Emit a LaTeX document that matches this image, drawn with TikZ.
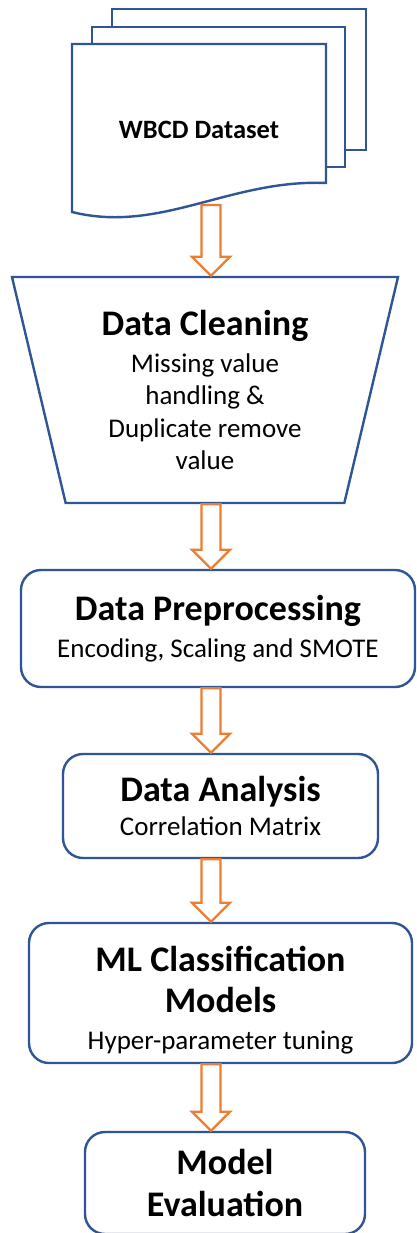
\documentclass[tikz,border=0pt]{standalone}
\usepackage{fontspec}
\setmainfont{Carlito}
\usetikzlibrary{calc,shapes.geometric}
\definecolor{boxblue}{HTML}{2F5597}
\definecolor{arroworange}{HTML}{ED7D31}
\newcommand\ttlfont{\fontsize{36}{42}\selectfont\bfseries}
\newcommand\subfont{\fontsize{27}{32.5}\selectfont}
\tikzset{
  stage/.style={draw=boxblue,line width=2.4pt,rounded corners=20pt,fill=white,
    align=center,font=\subfont,inner sep=0pt},
  page/.style={draw=boxblue,line width=2.4pt,fill=white},
  blockarrow/.style={draw=arroworange,line width=2.3pt,fill=white,
    to path={let \p1=(\tikztostart),\p2=(\tikztotarget) in
      (\x1-9.5pt,\y1) -- (\x1-9.5pt,\y2+19pt) -- (\x1-19pt,\y2+19pt) -- (\x2,\y2)
      -- (\x1+19pt,\y2+19pt) -- (\x1+9.5pt,\y2+19pt) -- (\x1+9.5pt,\y1) -- cycle}}
}
\def\stagenode{\node[stage]}

\begin{document}
\begin{tikzpicture}[x=1pt,y=-1pt]
\useasboundingbox (0,0) rectangle (416,1233);
\clip (0,0) rectangle (416,1233);
\draw[page] (112,9) rectangle (366,150);
\draw[page] (92,27) rectangle (345,167);
\draw[page] (72,44) -- (326,44) -- (326,183)
  .. controls (230,179) and (160,234) .. (72,212) -- cycle;
\coordinate (axis) at (211,205);
\node[font=\fontsize{26.5}{30}\selectfont\bfseries] (data) at (199,130) {WBCD Dataset};
\node[trapezium,shape border rotate=180,trapezium stretches body,draw=boxblue,
  line width=2.4pt,fill=white,trapezium angle=71.4,minimum width=386pt,
  minimum height=226pt,align=center,font=\subfont,inner sep=0pt] (clean) at (205,390)
  {{\ttlfont Data Cleaning}\\[4pt] Missing value\\ handling \&\\ Duplicate remove\\ value};
\stagenode[minimum width=394pt,minimum height=117pt] (prep) at (218,628.5)
  {{\ttlfont Data Preprocessing}\\[4pt] Encoding, Scaling and SMOTE};
\stagenode[minimum width=315pt,minimum height=104pt] (analysis) at (220.5,806)
  {{\ttlfont Data Analysis}\\[2pt] Correlation Matrix};
\stagenode[minimum width=383pt,minimum height=140pt] (models) at (220.5,993)
  {\rule{0pt}{39pt}{\ttlfont ML Classification}\\[9pt] {\ttlfont Models}\\[4pt] Hyper-parameter tuning};
\stagenode[minimum width=280pt,minimum height=102pt] (eval) at (225,1183)
  {{\ttlfont Model}\\[9pt] {\ttlfont Evaluation}};
\draw[blockarrow] (axis) to (clean.north -| axis);
\draw[blockarrow] (clean.south -| axis) to (prep.north -| axis);
\draw[blockarrow] (prep.south -| axis) to (analysis.north -| axis);
\draw[blockarrow] (analysis.south -| axis) to (models.north -| axis);
\draw[blockarrow] (models.south -| axis) to (eval.north -| axis);
\end{tikzpicture}
\end{document}
